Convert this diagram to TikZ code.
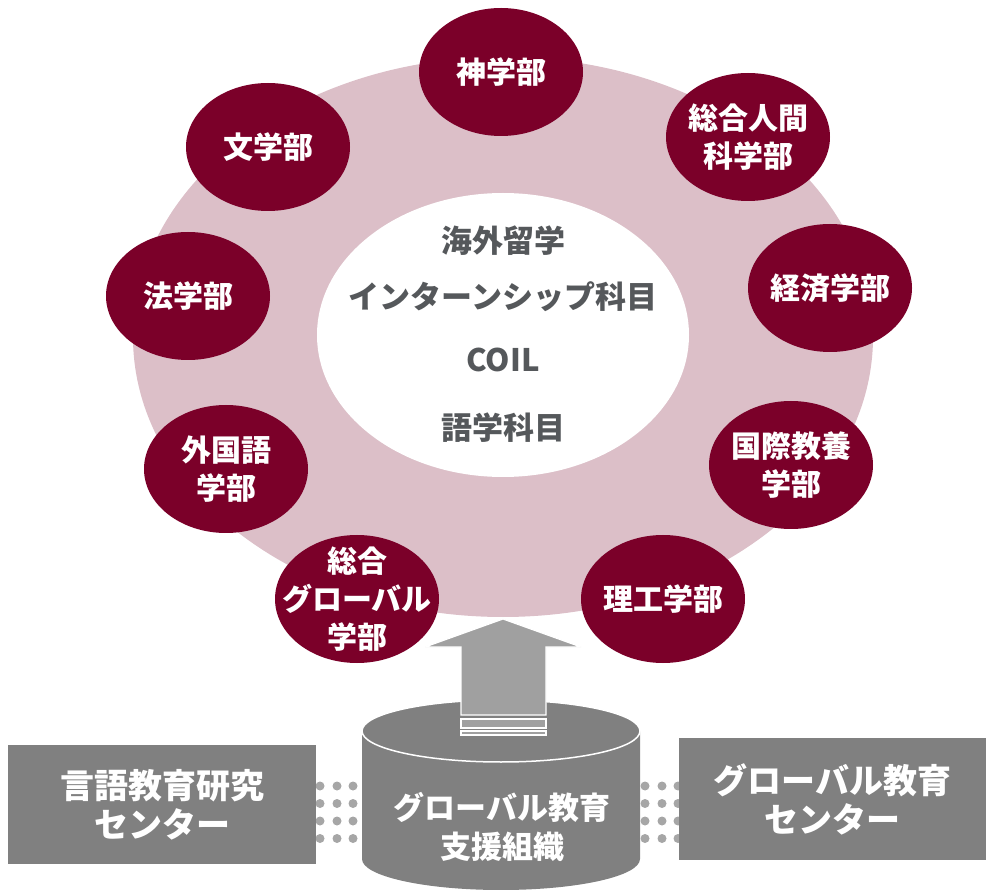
\documentclass[tikz,border=0pt]{standalone}
\usepackage{fontspec}
\setmainfont{Noto Sans CJK JP}
\usetikzlibrary{shapes.geometric}
\definecolor{wine}{HTML}{7B0029}
\definecolor{ringpink}{HTML}{DCBFC8}
\definecolor{boxgray}{HTML}{808080}
\definecolor{arrowgray}{HTML}{A0A0A0}
\definecolor{dotgray}{HTML}{A6A6A6}
\definecolor{textgray}{HTML}{55585B}
\tikzset{
  faculty/.style={ellipse, fill=wine, text=white, minimum width=164pt, minimum height=128pt,
    inner sep=-45pt, align=center, font=\fontsize{30}{38}\selectfont\bfseries},
  program/.style={text=textgray, font=\fontsize{31}{36}\selectfont\bfseries},
  unitbox/.style={fill=boxgray, text=white, align=center, inner sep=0pt,
    font=\fontsize{34}{39}\selectfont\bfseries},
  dotmark/.style={fill=dotgray}
}
\begin{document}
\begin{tikzpicture}[x=1pt, y=-1pt]
    \useasboundingbox (0,0) rectangle (986,890);
    % ring and centre
    \fill[ringpink] (503,337) ellipse [x radius=370, y radius=280];
    \fill[white] (503,335) ellipse [x radius=186, y radius=142];
    \node[program] (abroad) at (503,241) {海外留学};
    \node[program] (intern) at (503,297) {インターンシップ科目};
    \node[program] (coil) at (503,360) {COIL};
    \node[program] (lang) at (503,428) {語学科目};
    % faculties
    \node[faculty] (shin) at (501,72) {神学部};
    \node[faculty] (sougou) at (748,137) {総合人間\\科学部};
    \node[faculty] (keizai) at (830,288) {経済学部};
    \node[faculty] (kokusai) at (791,465) {国際教養\\学部};
    \node[faculty] (rikou) at (663,599) {理工学部};
    \node[faculty] (global) at (357,599) {総合\\グローバル\\学部};
    \node[faculty] (gaikoku) at (226,469) {外国語\\学部};
    \node[faculty] (hou) at (188,296) {法学部};
    \node[faculty] (bun) at (268,147) {文学部};
    % dots between the units
    \foreach \x in {320,337,353,645,662,678}
        \foreach \y in {786,803.5,821,838.5}
            \fill[dotmark] (\x,\y) circle (4.5);
    % support cylinder
    \fill[boxgray] (362,731) -- (362,859) arc[start angle=180, end angle=0, x radius=139, y radius=31]
        -- (640,731) -- cycle;
    \draw[white, fill=boxgray, line width=1.5pt] (501,731) ellipse [x radius=139, y radius=31];
    \node[text=white, align=center, font=\fontsize{31}{38.5}\selectfont\bfseries] (support) at (502,827)
        {グローバル教育\\支援組織};
    % arrow up to the ring
    \draw[white, fill=arrowgray, line width=1.2pt] (461,715) -- (461,647) -- (425,647) -- (503,619)
        -- (581,647) -- (546,647) -- (546,715) -- cycle;
    \draw[white, fill=arrowgray, line width=1.2pt] (461,719) rectangle (546,728);
    \draw[white, fill=arrowgray, line width=1.2pt] (461,731) rectangle (546,735);
    % side units
    \node[unitbox, minimum width=308pt, minimum height=119pt] (lrc) at (162,804.5) {言語教育研究\\センター};
    \node[unitbox, minimum width=307pt, minimum height=122pt] (cge) at (832.5,799) {グローバル教育\\センター};
\end{tikzpicture}
\end{document}
